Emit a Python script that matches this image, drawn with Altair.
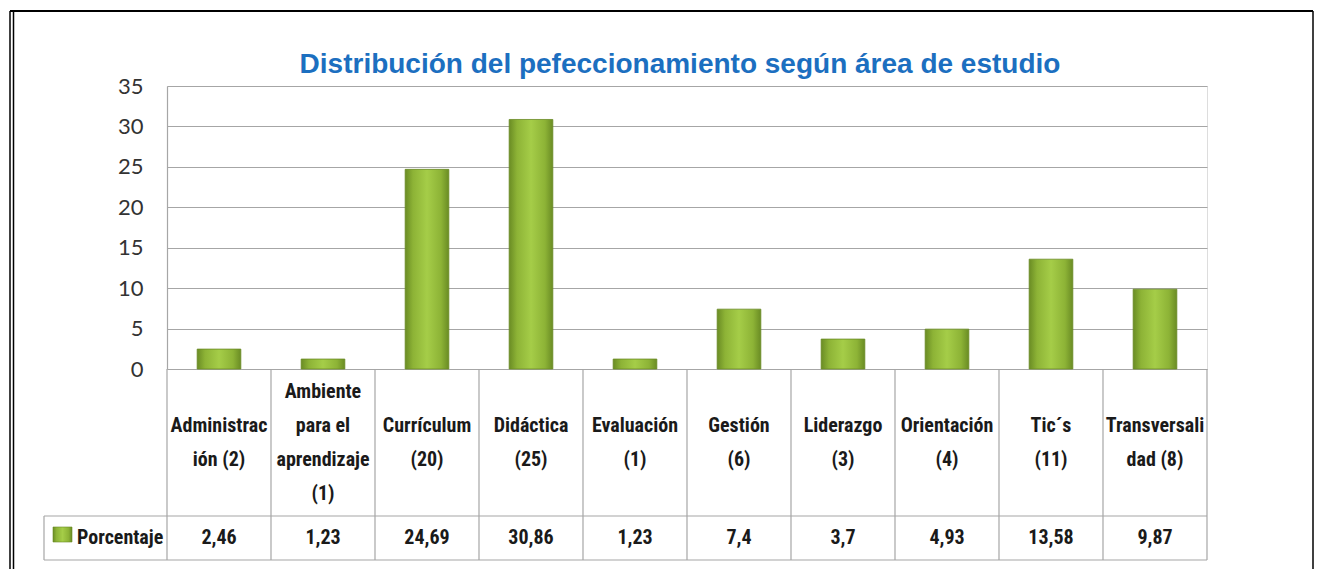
import altair as alt
import pandas as pd

# ---- data ----
keys = ["Administración", "Ambiente para el aprendizaje", "Currículum", "Didáctica",
        "Evaluación", "Gestión", "Liderazgo", "Orientación", "Tic´s", "Transversalidad"]
labels = ["Administrac\nión (2)", "Ambiente\npara el\naprendizaje\n(1)", "Currículum\n(20)",
          "Didáctica\n(25)", "Evaluación\n(1)", "Gestión\n(6)", "Liderazgo\n(3)",
          "Orientación\n(4)", "Tic´s\n(11)", "Transversali\ndad (8)"]
values = [2.46, 1.23, 24.69, 30.86, 1.23, 7.4, 3.7, 4.93, 13.58, 9.87]
value_labels = ["2,46", "1,23", "24,69", "30,86", "1,23", "7,4", "3,7", "4,93", "13,58", "9,87"]
y_ticks = [0, 5, 10, 15, 20, 25, 30, 35]
series_name = ["Porcentaje"]
title_text = ["Distribución del pefeccionamiento según área de estudio"]

df = pd.DataFrame({"key": keys, "label": labels, "value": values, "vlabel": value_labels})
one = pd.DataFrame({"name": series_name, "title": title_text})

# ---- layout constants (pixels) ----
W, H = 1040, 283
ROW1, ROW2 = 147, 44
LEG_W = 123
LINE_H = 34
GRID = "#a6a6a6"
TABLE_FONT = "Noto Sans Condensed, Liberation Sans Narrow, Roboto Condensed, Noto Sans SemiCondensed"
TXT = "#1a1a1a"

green = alt.Gradient(
    gradient="linear", x1=0, x2=1, y1=0, y2=0,
    stops=[
        alt.GradientStop(offset=0, color="#6a8c24"),
        alt.GradientStop(offset=0.18, color="#8db336"),
        alt.GradientStop(offset=0.5, color="#a5cd48"),
        alt.GradientStop(offset=0.82, color="#8db336"),
        alt.GradientStop(offset=1, color="#6a8c24"),
    ],
)

xenc = alt.X("key:N", sort=keys, axis=None, scale=alt.Scale(paddingInner=0, paddingOuter=0))

bars = alt.Chart(df).mark_bar(
    width=alt.RelativeBandSize(0.42), fill=green, stroke="#6a8a24", strokeWidth=0.8
).encode(
    x=xenc,
    y=alt.Y("value:Q", title=None,
            scale=alt.Scale(domain=[0, 35], nice=False, zero=True),
            axis=alt.Axis(values=y_ticks, grid=True, gridColor=GRID, gridWidth=1.2,
                          ticks=False, domain=True, domainColor=GRID, domainWidth=1.2,
                          labelFont="Lato", labelFontSize=22, labelColor="#333333",
                          labelPadding=24)),
)

vlines = alt.Chart(df).mark_rule(color=GRID, strokeWidth=1.2).encode(
    x=alt.X("key:N", sort=keys, bandPosition=0),
    y=alt.value(H), y2=alt.value(H + ROW1 + ROW2),
)
vline_last = alt.Chart(df).transform_filter(alt.datum.key == keys[-1]).mark_rule(
    color=GRID, strokeWidth=1.2
).encode(
    x=alt.X("key:N", sort=keys, bandPosition=1),
    y=alt.value(H), y2=alt.value(H + ROW1 + ROW2),
)

def hrule(y):
    return alt.Chart(one).mark_rule(color=GRID, strokeWidth=1.2).encode(
        x=alt.value(-LEG_W), x2=alt.value(W), y=alt.value(y))

h1 = hrule(H + ROW1)
h2 = hrule(H + ROW1 + ROW2)
leg_left = alt.Chart(one).mark_rule(color=GRID, strokeWidth=1.2).encode(
    x=alt.value(-LEG_W), y=alt.value(H + ROW1), y2=alt.value(H + ROW1 + ROW2))

def cat_layer(n):
    return alt.Chart(df).transform_calculate(
        nl="length(split(datum.label, '\\n'))"
    ).transform_filter(alt.datum.nl == n).mark_text(
        font=TABLE_FONT, fontSize=20, fontWeight="bold", color=TXT, lineBreak="\n",
        lineHeight=LINE_H, baseline="middle", align="center"
    ).encode(x=alt.X("key:N", sort=keys),
             y=alt.value(H + ROW1 / 2 - (n - 1) * LINE_H / 2), text="label:N")

cat2 = cat_layer(2)
cat4 = cat_layer(4)

val_text = alt.Chart(df).mark_text(
    font=TABLE_FONT, fontSize=20, fontWeight="bold", color=TXT, baseline="middle", align="center"
).encode(x=alt.X("key:N", sort=keys), y=alt.value(H + ROW1 + ROW2 / 2), text="vlabel:N")

leg_box = alt.Chart(one).mark_rect(fill=green, stroke="#6a8a24", strokeWidth=0.6).encode(
    x=alt.value(-LEG_W + 9), x2=alt.value(-LEG_W + 28),
    y=alt.value(H + ROW1 + 11), y2=alt.value(H + ROW1 + 26))
leg_text = alt.Chart(one).mark_text(
    font=TABLE_FONT, fontSize=20, fontWeight="bold", color=TXT, baseline="middle", align="left"
).encode(x=alt.value(-LEG_W + 33), y=alt.value(H + ROW1 + ROW2 / 2), text="name:N")

title = alt.Chart(one).mark_text(
    font="Liberation Sans", fontSize=28, fontWeight="bold", color="#1c6fc0",
    baseline="alphabetic", align="center"
).encode(x=alt.value(W / 2 - 7), y=alt.value(-13), text="title:N")

# outer frame
BL, BT, BR, BB = -157, -75, 1146, H + 200
frame_left1 = alt.Chart(one).mark_rule(color="#000000", strokeWidth=1.5).encode(
    x=alt.value(BL), y=alt.value(BT), y2=alt.value(BB))
frame_left2 = alt.Chart(one).mark_rule(color="#000000", strokeWidth=1.5).encode(
    x=alt.value(BL + 3.5), y=alt.value(BT), y2=alt.value(BB))
frame_top = alt.Chart(one).mark_rule(color="#000000", strokeWidth=2).encode(
    x=alt.value(BL), x2=alt.value(BR), y=alt.value(BT))
frame_right = alt.Chart(one).mark_rule(color="#000000", strokeWidth=1.5).encode(
    x=alt.value(BR), y=alt.value(BT), y2=alt.value(BB))

chart = alt.layer(
    bars, vlines, vline_last, h1, h2, leg_left, cat2, cat4, val_text, leg_box, leg_text,
    title, frame_left1, frame_left2, frame_top, frame_right,
).properties(
    width=W, height=H,
    autosize=alt.AutoSizeParams(type="none"),
    padding={"left": 159, "top": 78, "right": 107, "bottom": 200},
).configure_view(stroke=None).configure(background="white")

chart.save("out.html", embed_options={"renderer": "svg", "actions": False})
